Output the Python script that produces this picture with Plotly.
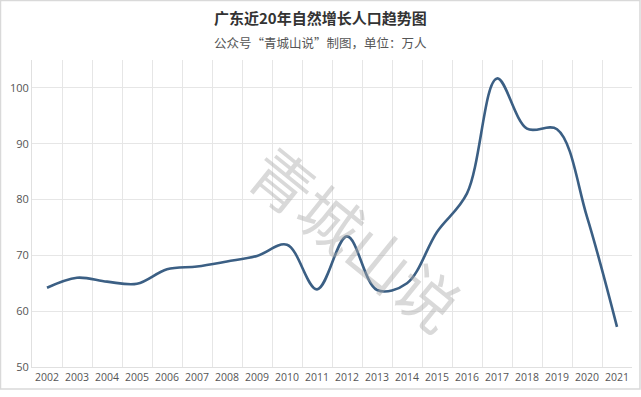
import plotly.graph_objects as go

years = [str(y) for y in range(2002, 2022)]
values = [64.2, 66.0, 65.3, 64.9, 67.5, 68.0, 68.9, 69.9, 71.9, 63.9,
          73.4, 63.8, 65.0, 74.2, 81.1, 101.7, 92.7, 92.6, 76.9, 57.2]
y_ticks = [50, 60, 70, 80, 90, 100]

title_text = "广东近20年自然增长人口趋势图"
subtitle_text = "公众号“青城山说”制图，单位：万人"
watermark_text = "青城山说"

fig = go.Figure()
fig.add_trace(go.Scatter(
    x=years, y=values, mode="lines",
    line=dict(color="#3b5f84", width=2.6, shape="spline", smoothing=1.0),
    hoverinfo="x+y", showlegend=False,
))

fig.update_layout(
    width=641, height=397,
    margin=dict(l=32, r=9, t=60, b=30, autoexpand=False),
    paper_bgcolor="white", plot_bgcolor="white",
    font=dict(family="Open Sans, Noto Sans CJK SC, sans-serif", color="#555555", size=11),
    xaxis=dict(
        type="category", range=[-0.5, len(years) - 0.5], tickson="boundaries",
        showgrid=True, gridcolor="#e6e6e6",
        gridwidth=1, ticks="", showline=True, linecolor="#e0e0e0",
        tickfont=dict(size=10.5, color="#555555"), tickangle=0, automargin=False,
        zeroline=False,
    ),
    yaxis=dict(
        range=[50, 105], tickvals=y_ticks, showgrid=True, gridcolor="#e6e6e6",
        gridwidth=1, showline=True, linecolor="#e0e0e0", ticks="", zeroline=False,
        tickfont=dict(size=11, color="#555555"), automargin=False,
    ),
    annotations=[
        dict(text="<b>" + title_text + "</b>", xref="paper", yref="paper",
             x=0.48, y=1.14, xanchor="center", yanchor="middle", showarrow=False,
             font=dict(family="Noto Sans CJK SC", size=15, color="#333333")),
        dict(text=subtitle_text, xref="paper", yref="paper",
             x=0.48, y=1.058, xanchor="center", yanchor="middle", showarrow=False,
             font=dict(family="Noto Sans CJK SC", size=12.5, color="#555555")),
        dict(text=watermark_text, xref="paper", yref="paper",
             x=0.542, y=0.425, xanchor="center", yanchor="middle", showarrow=False,
             textangle=39,
             font=dict(family="Noto Sans CJK SC", size=62, color="rgba(170,170,170,0.45)")),
    ],
    shapes=[
        dict(type="rect", xref="paper", yref="paper",
             x0=-0.0525, x1=1.0133, y0=-0.0717, y1=1.1938,
             line=dict(color="#d9d9d9", width=1.5), fillcolor="rgba(0,0,0,0)", layer="below"),
    ],
)

fig.write_html("out.html", config={"displayModeBar": False},
               post_script="document.body.style.margin='0';document.body.style.overflow='hidden';")
